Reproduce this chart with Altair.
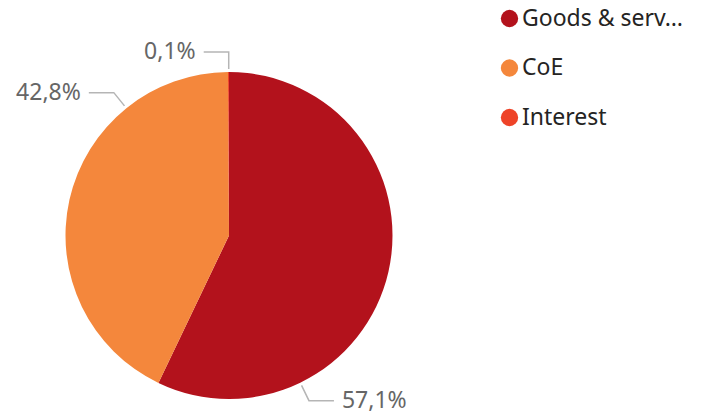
import math
import altair as alt
import pandas as pd

# ---- data ----
categories = ["Goods & services", "CoE", "Interest"]
shares = [57.1, 42.8, 0.1]
colors = ["#B3121C", "#F4873C", "#EE4328"]

# ---- layout ----
W, H = 686, 409
CX, CY = 221, 227.5          # pie centre inside the plot area
R = 163.5                    # pie radius (px)
FONT = "Noto Sans"

pie_df = pd.DataFrame({"category": categories, "share": shares,
                       "idx": list(range(len(categories)))})

# leader lines / labels derived from the slice angles
total = sum(shares)
line_rows, text_rows = [], []
cum = 0.0
for cat, v in zip(categories, shares):
    a = 2 * math.pi * (cum + 0.75 * v) / total
    cum += v
    s, c = math.sin(a), math.cos(a)
    side = 1 if s > 0 else -1
    x1, y1 = (R + 3) * s, (R + 3) * c
    x2, y2 = (R + 20) * s, (R + 20) * c
    x3 = x2 + side * 25
    line_rows += [dict(cat=cat, k=0, x=x1, y=y1),
                  dict(cat=cat, k=1, x=x2, y=y2),
                  dict(cat=cat, k=2, x=x3, y=y2)]
    text_rows.append(dict(cat=cat, x=x3 + side * 8, y=y2,
                          side="L" if side > 0 else "R",
                          label=f"{v:.1f}".replace(".", ",") + "%"))
line_df = pd.DataFrame(line_rows)
text_df = pd.DataFrame(text_rows)

xs = alt.Scale(domain=[-CX, W - CX], nice=False, zero=False)
ys = alt.Scale(domain=[-(H - CY), CY], nice=False, zero=False)

arc = alt.Chart(pie_df).mark_arc(outerRadius=R, strokeWidth=0).encode(
    theta=alt.Theta("share:Q", stack=True),
    order=alt.Order("idx:Q"),
    color=alt.Color(
        "category:N",
        scale=alt.Scale(domain=categories, range=colors),
        sort=categories,
        legend=alt.Legend(
            title=None, orient="none", legendX=490, legendY=-1,
            direction="vertical", symbolType="circle", symbolSize=300,
            symbolStrokeWidth=0, labelFont=FONT, labelFontSize=23,
            labelColor="#252423", labelLimit=164, rowPadding=25.5,
            labelOffset=1,
        ),
    ),
    x=alt.XDatum(0, type="quantitative", scale=xs, axis=None),
    y=alt.YDatum(0, type="quantitative", scale=ys, axis=None),
)

leaders = alt.Chart(line_df).mark_line(color="#B5B5B5", strokeWidth=1.5).encode(
    x=alt.X("x:Q", scale=xs, axis=None),
    y=alt.Y("y:Q", scale=ys, axis=None),
    detail="cat:N",
    order="k:Q",
)

labels_left = alt.Chart(text_df).transform_filter(alt.datum.side == "L").mark_text(
    font=FONT, fontSize=23, color="#666666", align="left", baseline="middle"
).encode(
    x=alt.X("x:Q", scale=xs, axis=None),
    y=alt.Y("y:Q", scale=ys, axis=None),
    text="label:N",
)
labels_right = alt.Chart(text_df).transform_filter(alt.datum.side == "R").mark_text(
    font=FONT, fontSize=23, color="#666666", align="right", baseline="middle"
).encode(
    x=alt.X("x:Q", scale=xs, axis=None),
    y=alt.Y("y:Q", scale=ys, axis=None),
    text="label:N",
)

chart = alt.layer(arc, leaders, labels_left, labels_right).properties(
    width=W, height=H, padding=0,
    autosize=alt.AutoSizeParams(type="none"),
).configure_view(stroke=None)

chart.save("out.html", embed_options={"renderer": "svg", "actions": False})
